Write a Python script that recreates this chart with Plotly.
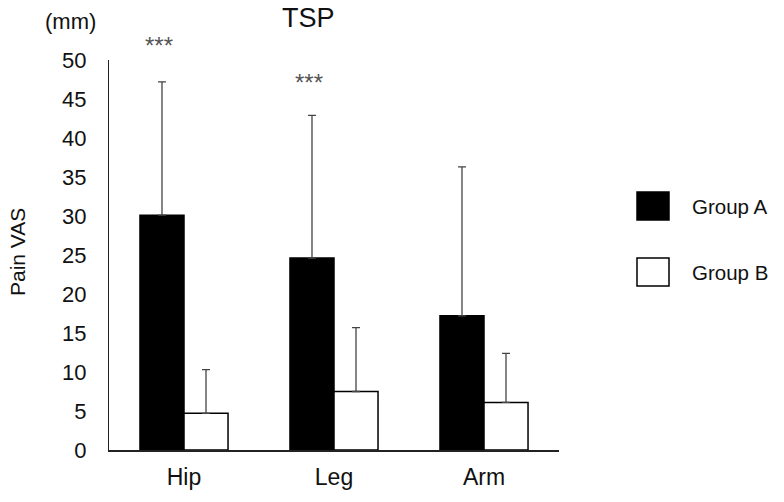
import plotly.graph_objects as go

categories = ["Hip", "Leg", "Arm"]
group_a = [30.1, 24.6, 17.2]
group_a_sd = [17.1, 18.3, 19.1]
group_b = [4.7, 7.5, 6.1]
group_b_sd = [5.6, 8.2, 6.3]
y_ticks = [0, 5, 10, 15, 20, 25, 30, 35, 40, 45, 50]
sig_labels = ["***", "***", ""]
sig_y = [51.8, 47.1, None]

FONT = "Liberation Sans, Arial, sans-serif"
Y_MAX = 50

fig = go.Figure()
fig.add_trace(go.Bar(
    name="Group A", x=categories, y=group_a,
    marker=dict(color="black", line=dict(color="black", width=1.5)),
    error_y=dict(type="data", array=group_a_sd, arrayminus=[0]*3, symmetric=False,
                 color="#444", thickness=1.3, width=4),
    showlegend=False,
))
fig.add_trace(go.Bar(
    name="Group B", x=categories, y=group_b,
    marker=dict(color="white", line=dict(color="black", width=1.5)),
    error_y=dict(type="data", array=group_b_sd, arrayminus=[0]*3, symmetric=False,
                 color="#444", thickness=1.3, width=4),
    showlegend=False,
))

annotations = []
for i, (lab, yv) in enumerate(zip(sig_labels, sig_y)):
    if lab:
        annotations.append(dict(x=i, y=yv / Y_MAX, xref="x", yref="paper", text=lab,
                                showarrow=False, xshift=-25, xanchor="center", yanchor="middle",
                                font=dict(family=FONT, size=24, color="#555")))

annotations.append(dict(x=(308-109)/450, y=1 + (60-18)/390, xref="paper", yref="paper",
                        xanchor="center", yanchor="middle",
                        text="TSP", showarrow=False, font=dict(family=FONT, size=27, color="#111")))
annotations.append(dict(x=(70-109)/450, y=1 + (60-22)/390, xref="paper", yref="paper",
                        xanchor="center", yanchor="middle",
                        text="(mm)", showarrow=False, font=dict(family=FONT, size=22, color="#111")))
annotations.append(dict(x=(17-109)/450, y=(450-252)/390, xref="paper", yref="paper",
                        xanchor="center", yanchor="middle",
                        text="Pain VAS", showarrow=False, textangle=-90,
                        font=dict(family=FONT, size=21, color="#111")))

# manual legend
shapes = []
legend_items = [("Group A", "black", 206), ("Group B", "white", 272)]
for name, col, yc in legend_items:
    x0 = (637-109)/450; x1 = (669-109)/450
    y0 = (450-(yc+14))/390; y1 = (450-(yc-14))/390
    shapes.append(dict(type="rect", xref="paper", yref="paper", x0=x0, x1=x1, y0=y0, y1=y1,
                       fillcolor=col, line=dict(color="black", width=1.5)))
    annotations.append(dict(x=(690-109)/450, y=(450-yc)/390, xref="paper", yref="paper",
                            text=name, showarrow=False, xanchor="left", yanchor="middle",
                            font=dict(family=FONT, size=20.5, color="#111")))

fig.update_layout(
    width=784, height=502,
    margin=dict(l=109, r=225, t=60, b=52),
    paper_bgcolor="white", plot_bgcolor="white",
    barmode="group", bargap=0.413, bargroupgap=0,
    font=dict(family=FONT, size=20, color="#111"),
    annotations=annotations, shapes=shapes,
    xaxis=dict(showline=True, linecolor="#222", linewidth=1.5, ticks="",
               tickfont=dict(size=23), showgrid=False, ticklabelstandoff=6),
    yaxis=dict(range=[0, Y_MAX], tickvals=y_ticks, showline=True, linecolor="#222",
               linewidth=1.3, ticks="", showgrid=False, zeroline=False,
               tickfont=dict(size=22), ticklabelstandoff=17),
)
fig.write_html("out.html", config={"displayModeBar": False},
               post_script="document.body.style.margin='0';")
